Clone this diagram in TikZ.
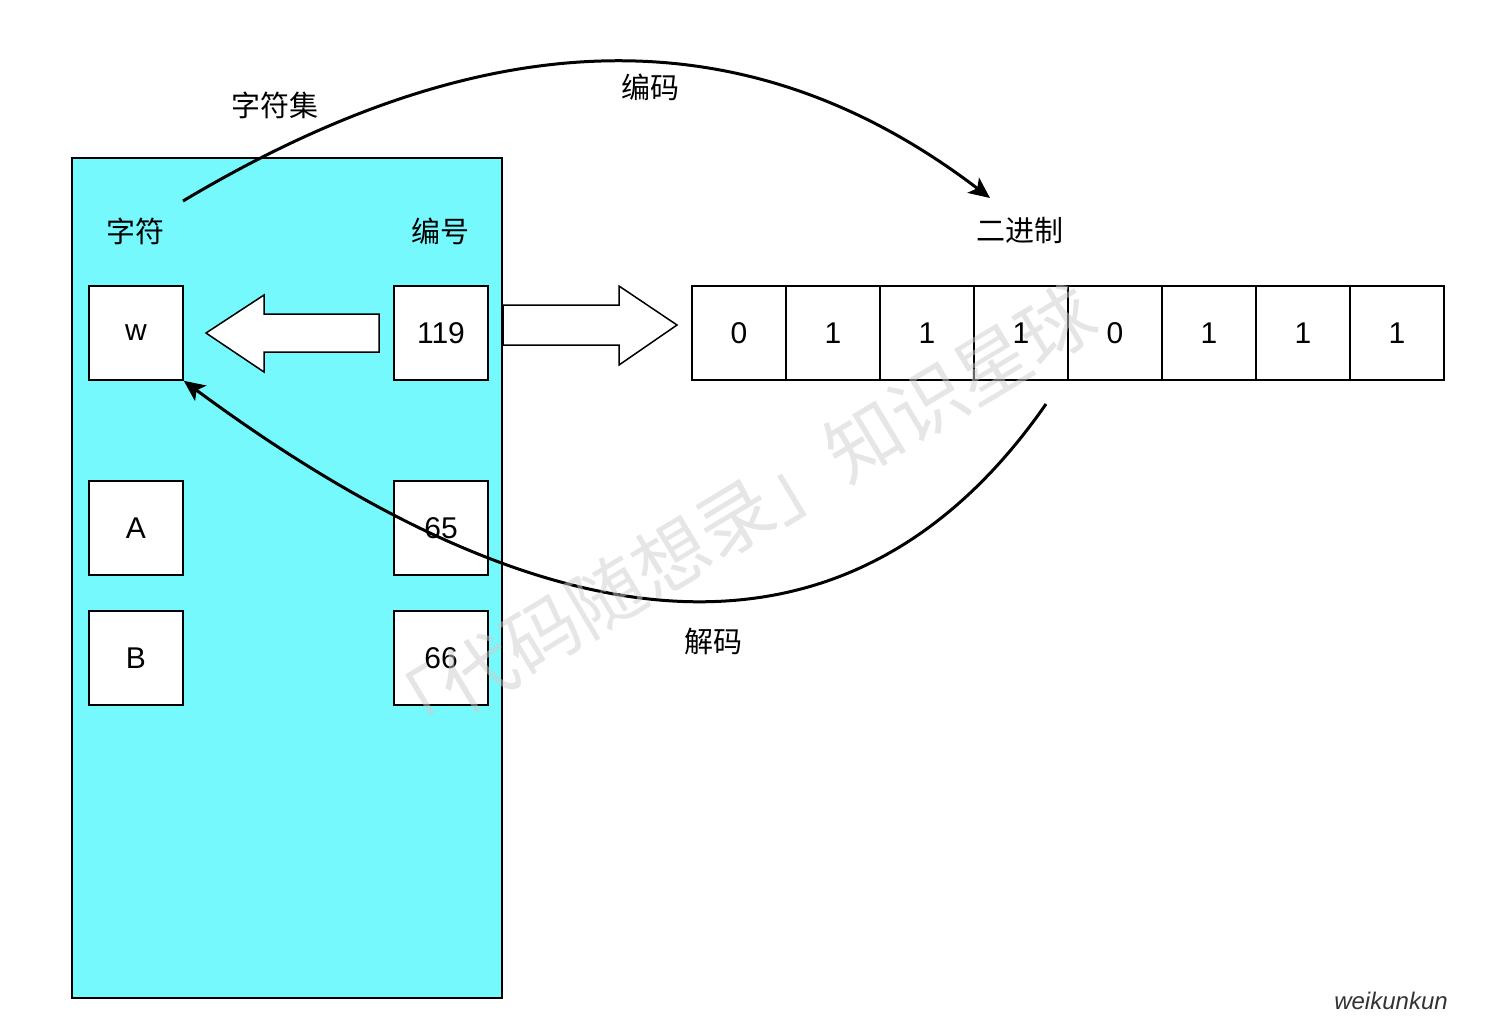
\documentclass[tikz,border=0pt]{standalone}
\usepackage{fontspec}
\setmainfont{Liberation Sans}
\newfontfamily\cjk{Noto Sans CJK SC}
\usetikzlibrary{arrows.meta}
\definecolor{panelcyan}{RGB}{117,249,253}
\definecolor{wmgray}{RGB}{205,205,205}
\tikzset{
  cell/.style={draw=black,line width=0.75pt,fill=white,minimum width=47pt,minimum height=47pt,inner sep=0pt,font=\fontsize{15}{18}\selectfont},
  bitcell/.style={draw=black,line width=0.75pt,fill=white,minimum width=47pt,minimum height=47pt,inner sep=0pt,font=\fontsize{15}{18}\selectfont},
  zhlabel/.style={font=\cjk\fontsize{14.5}{17}\selectfont,inner sep=0pt},
  blockarrow/.style={draw=black,line width=0.75pt,fill=white,line join=miter},
  curvearrow/.style={line width=1.5pt,-{Stealth[length=10.5pt,width=9.5pt,inset=2.5pt]}},
}
\begin{document}
\begin{tikzpicture}[x=0.5pt,y=-0.5pt]
\useasboundingbox (0,0) rectangle (1486,1034);
% cyan panel
\node[draw=black,line width=0.75pt,fill=panelcyan,minimum width=215pt,minimum height=420pt,inner sep=0pt] (panel) at (287,578) {};
% column labels
\node[zhlabel] (lchar) at (135,231) {字符};
\node[zhlabel] (lnum) at (440,231) {编号};
% boxes
\node[cell] (w) at (136,333) {w};
\node[cell] (n119) at (441,333) {119};
\node[cell] (A) at (136,528) {A};
\node[cell] (n65) at (441,528) {65};
\node[cell] (B) at (136,658) {B};
\node[cell] (n66) at (441,658) {66};
% block arrow left (119 -> w)
\draw[blockarrow] (379,314) -- (264,314) -- (264,295) -- (206,333) -- (264,372) -- (264,352) -- (379,352) -- cycle;
% block arrow right (panel -> bits)
\draw[blockarrow] (503,305) -- (619,305) -- (619,286) -- (677,325) -- (619,365) -- (619,345) -- (503,345) -- cycle;
% bits
\foreach \b [count=\i from 0] in {0,1,1,1,0,1,1,1}{
  \node[bitcell] (bit\i) at (739+94*\i,333) {\b};
}
\node[zhlabel] (lbin) at (1020,231) {二进制};
% labels
\node[zhlabel] (lset) at (275,105) {字符集};
\node[zhlabel] (lenc) at (650,87) {编码};
\node[zhlabel] (ldec) at (713,641) {解码};
% encode curve
\coordinate (encS) at (183,201);
\coordinate (encE) at (990,198);
\draw[curvearrow] (encS) .. controls (503,10) and (759,22) .. (encE);
% decode curve
\coordinate (decS) at (1046,404);
\draw[curvearrow] (decS) .. controls (859,673) and (571,667) .. (w.south east);
% watermark
\node[font=\cjk\fontsize{37.5}{40}\selectfont,text=wmgray,opacity=0.5,rotate=31,inner sep=0pt] (wm) at (735,518) {「代码随想录」知识星球};
% signature
\node[font=\itshape\fontsize{12}{14}\selectfont,text=black!80,inner sep=0pt] (sig) at (1391,1001) {weikunkun};
\end{tikzpicture}
\end{document}
